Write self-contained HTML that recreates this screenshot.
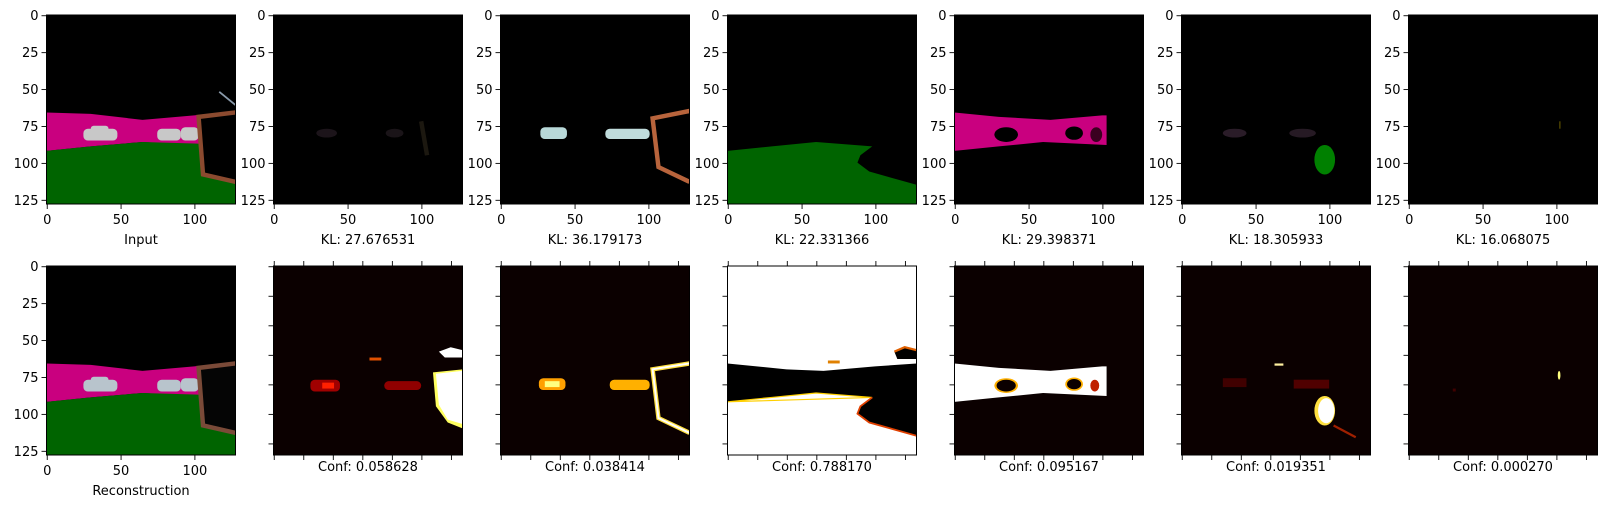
<!DOCTYPE html>
<html><head><meta charset="utf-8">
<style>
html,body{margin:0;padding:0;background:#fff;}
svg{display:block;font-family:"DejaVu Sans","Liberation Sans",sans-serif;}
</style></head>
<body>
<svg id="fig" width="1609" height="509" viewBox="0 0 1609 509" xmlns="http://www.w3.org/2000/svg"></svg>
<script>
const klValues = ["27.676531","36.179173","22.331366","29.398371","18.305933","16.068075"];
const confValues = ["0.058628","0.038414","0.788170","0.095167","0.019351","0.000270"];
const yTickLabels = [0,25,50,75,100,125];
const xTickLabels = [0,50,100];
const confTicks = [0,20,40,60,80,100,120];

const NS="http://www.w3.org/2000/svg";
const fig=document.getElementById('fig');
const X0=46.5, DX=227, SIZE=189, ROWY=[15,266], N=128, S=SIZE/N;
const HOT0="#0b0000";

const road="0,66 30,67 65,71 100,68 128,65 128,90 100,88 65,86 30,89 0,92";
const grass="0,92 30,89 65,86 100,87 128,88 128,128 0,128";
function cars(c){return `<rect x="25" y="77" width="23" height="8" rx="3" fill="${c}"/><rect x="30" y="75" width="12" height="4" rx="2" fill="${c}"/><rect x="75" y="77" width="16" height="8" rx="3" fill="${c}"/><rect x="91" y="76" width="12" height="9" rx="3" fill="${c}"/>`;}
const frame=`<polygon points="104,70 128,67 128,112 107,107" fill="#000"/><polyline points="128,66 103,69 106,108 128,113" fill="none" stroke="#8b4a2f" stroke-width="3"/>`;

const imgs={
 input:`<rect width="128" height="128" fill="#000"/><polygon points="${road}" fill="#c9007f"/><polygon points="${grass}" fill="#006400"/>${cars('#c8c8c8')}${frame}<line x1="117" y1="52" x2="128" y2="61" stroke="#8a9aaa" stroke-width="1.2"/>`,
 recon:`<rect width="128" height="128" fill="#000"/><polygon points="${road}" fill="#c9007f"/><polygon points="${grass}" fill="#006400"/>${cars('#b8c4cc')}<polygon points="104,70 128,67 128,112 107,107" fill="#050505"/><polyline points="128,66 103,69 106,108 128,113" fill="none" stroke="#7a4a38" stroke-width="3"/>`,
 kl1:`<rect width="128" height="128" fill="#000"/><ellipse cx="36" cy="80" rx="7" ry="3" fill="#1c141a"/><ellipse cx="82" cy="80" rx="6" ry="3" fill="#1a1418"/><line x1="100" y1="72" x2="104" y2="95" stroke="#1c1810" stroke-width="3"/>`,
 kl2:`<rect width="128" height="128" fill="#000"/><rect x="27" y="76" width="18" height="8" rx="3" fill="#b8d8d8"/><rect x="71" y="77" width="30" height="7" rx="3" fill="#c0dcdc"/><polyline points="128,65 103,70 107,103 128,113" fill="none" stroke="#b8643c" stroke-width="3"/>`,
 kl3:`<rect width="128" height="128" fill="#000"/><polygon points="0,92 30,89 60,86 98,89 90,95 88,100 96,106 128,115 128,128 0,128" fill="#006400"/>`,
 kl4:`<rect width="128" height="128" fill="#000"/><polygon points="0,66 30,69 65,71 100,68 103,68 103,88 60,86 30,89 0,92" fill="#c9007f"/><ellipse cx="35" cy="81" rx="8" ry="5" fill="#000"/><ellipse cx="81" cy="80" rx="6" ry="4.5" fill="#000"/><ellipse cx="96" cy="81" rx="4" ry="5" fill="#3a0020"/>`,
 kl5:`<rect width="128" height="128" fill="#000"/><ellipse cx="36" cy="80" rx="8" ry="3" fill="#2a1c28"/><ellipse cx="82" cy="80" rx="9" ry="3" fill="#261a24"/><ellipse cx="97" cy="98" rx="7" ry="10" fill="#008000"/>`,
 kl6:`<rect width="128" height="128" fill="#000"/><rect x="102" y="72" width="1" height="5" fill="#4a4000"/>`,
 c1:`<rect width="128" height="128" fill="${HOT0}"/><rect x="25" y="77" width="20" height="8" rx="3" fill="#a00000"/><rect x="33" y="79" width="8" height="4" fill="#ff2000"/><rect x="75" y="78" width="25" height="6" rx="3" fill="#900000"/><rect x="65" y="62" width="8" height="2" fill="#e05000"/><polygon points="108,72 128,70 128,110 118,106 110,95" fill="#ffff60"/><polygon points="110,73 128,71 128,107 118,104 112,94" fill="#ffffff"/><polygon points="112,58 120,55 128,57 128,62 116,62" fill="#ffffff"/>`,
 c2:`<rect width="128" height="128" fill="${HOT0}"/><rect x="26" y="76" width="18" height="8" rx="3" fill="#ffa000"/><rect x="30" y="78" width="10" height="4" fill="#ffff80"/><rect x="74" y="77" width="27" height="7" rx="3" fill="#ffb000"/><polyline points="128,66 103,70 107,103 128,113" fill="none" stroke="#ffe040" stroke-width="3"/><polyline points="128,66 103,70 107,103 128,113" fill="none" stroke="#ffffff" stroke-width="1.3"/>`,
 c3:`<rect width="128" height="128" fill="#ffffff"/><polygon points="0,66 40,70 65,71 100,68 128,66 128,128 0,128" fill="#000"/><polygon points="0,92 30,89 60,86 98,89 90,95 88,100 96,106 128,115 128,128 0,128" fill="#ffffff"/><polygon points="0,92 30,89 60,86 98,89" fill="none" stroke="#ffd000" stroke-width="0.8"/><polyline points="98,89 90,95 88,100 96,106 128,115" fill="none" stroke="#e04000" stroke-width="1.2"/><polygon points="113,58 120,55 128,57 128,63 115,63" fill="#000"/><polyline points="113,58 120,55 128,57" fill="none" stroke="#e06000" stroke-width="1.5"/><rect x="68" y="64" width="8" height="2" fill="#e08000"/>`,
 c4:`<rect width="128" height="128" fill="${HOT0}"/><polygon points="0,66 30,69 65,71 100,68 103,68 103,88 60,86 30,89 0,92" fill="#ffffff"/><ellipse cx="35" cy="81" rx="8" ry="5" fill="#ffb000"/><ellipse cx="35" cy="81" rx="6.5" ry="4" fill="#0b0000"/><ellipse cx="81" cy="80" rx="6" ry="4.5" fill="#ffb000"/><ellipse cx="81" cy="80" rx="4.8" ry="3.5" fill="#0b0000"/><ellipse cx="95" cy="81" rx="3" ry="4" fill="#c02000"/>`,
 c5:`<rect width="128" height="128" fill="${HOT0}"/><rect x="28" y="76" width="16" height="6" fill="#400000"/><rect x="76" y="77" width="24" height="6" fill="#500000"/><rect x="63" y="66" width="6" height="1.5" fill="#fff0a0"/><ellipse cx="97" cy="98" rx="7" ry="10" fill="#ffe040"/><ellipse cx="98" cy="98" rx="5.5" ry="8.5" fill="#ffffff"/><line x1="103" y1="108" x2="118" y2="116" stroke="#a02000" stroke-width="1.5"/>`,
 c6:`<rect width="128" height="128" fill="${HOT0}"/><ellipse cx="102" cy="74" rx="0.9" ry="3" fill="#ffff80"/><rect x="30" y="83" width="2" height="2" fill="#400000"/>`
};

function el(tag,attrs,parent){const e=document.createElementNS(NS,tag);for(const k in attrs)e.setAttribute(k,attrs[k]);(parent||fig).appendChild(e);return e;}
function txt(x,y,s,anchor,parent){const t=el('text',{x:x,y:y,'font-size':13,'text-anchor':anchor,fill:'#000'},parent);t.textContent=s;return t;}
function px(v){return (v+0.5)*S;}

let clipId=0;
function panel(col,row,key,labelText,labeled){
  const x=X0+col*DX, y=ROWY[row];
  const g=el('g',{});
  
  
  const cp=el('clipPath',{id:'cp'+clipId},g);
  el('rect',{x:0,y:0,width:N,height:N},cp);
  const img=el('g',{transform:`translate(${x},${y}) scale(${S})`,'clip-path':`url(#cp${clipId})`},g);
  
  
  img.innerHTML=imgs[key];
  clipId++;
  el('rect',{x:x,y:y,width:SIZE,height:SIZE,fill:'none',stroke:'#000','stroke-width':1},g);
  const tg=el('g',{stroke:'#000','stroke-width':0.9},g);
  
  
  if(labeled){
    yTickLabels.forEach(v=>{const yy=y+px(v);el('line',{x1:x,x2:x-5,y1:yy,y2:yy},tg);txt(x-8,yy+4.5,String(v),'end',g);});
    xTickLabels.forEach(v=>{const xx=x+px(v);el('line',{x1:xx,x2:xx,y1:y+SIZE,y2:y+SIZE+5},tg);txt(xx,y+SIZE+20,String(v),'middle',g);});
    const l=txt(x+SIZE/2,y+SIZE+40,labelText,'middle',g);
    
    
  } else {
    confTicks.forEach(v=>{const yy=y+px(v),xx=x+px(v);
      el('line',{x1:x,x2:x-5,y1:yy,y2:yy},tg);
      el('line',{x1:xx,x2:xx,y1:y,y2:y-5},tg);
      el('line',{x1:xx,x2:xx,y1:y+SIZE,y2:y+SIZE+5},tg);});
    const l=txt(x+SIZE/2,y+SIZE+16,labelText,'middle',g);
    
    
  }
}

panel(0,0,'input','Input',true);
panel(0,1,'recon','Reconstruction',true);
klValues.forEach((v,i)=>panel(i+1,0,'kl'+(i+1),'KL: '+v,true));
confValues.forEach((v,i)=>panel(i+1,1,'c'+(i+1),'Conf: '+v,false));
</script>
</body></html>
